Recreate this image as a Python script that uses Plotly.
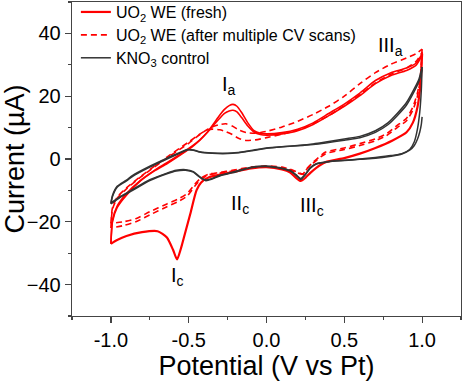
import plotly.graph_objects as go

# ---------------- data ----------------
# common potential grids (V vs Pt)
up_v = [-1.00, -0.99, -0.96, -0.90, -0.81, -0.72, -0.64, -0.54, -0.47, -0.43, -0.38, -0.34,
        -0.30, -0.27, -0.24, -0.215, -0.19, -0.16, -0.12, -0.08, -0.04, 0.00, 0.10, 0.20,
        0.30, 0.40, 0.50, 0.60, 0.70, 0.80, 0.90, 0.96, 1.00]

# UO2 WE (fresh) - solid red
fresh_up1_i = [-27, -20, -15.5, -11.5, -7.0, -3.8, -1.5, 1.7, 4.2, 5.9, 8.5, 11.2,
               14.0, 15.8, 17.0, 17.4, 16.8, 14.8, 11.5, 9.0, 8.2, 8.0, 8.4, 9.5,
               11.5, 14.5, 17.5, 21.0, 25.0, 27.5, 29.0, 30.5, 33.5]
fresh_up2_i = [-27, -19.5, -15, -11, -6.8, -3.6, -1.2, 2.0, 4.4, 6.0, 8.5, 10.8,
               13.0, 14.5, 15.3, 15.5, 15.0, 13.2, 10.5, 8.6, 7.8, 7.6, 8.0, 9.0,
               11.0, 13.8, 16.8, 20.2, 24.0, 26.6, 28.2, 29.8, 33.0]
fresh_dn_v = [1.00, 0.99, 0.97, 0.94, 0.90, 0.81, 0.70, 0.60, 0.50, 0.38, 0.32, 0.28, 0.25,
              0.22, 0.19, 0.15, 0.10, 0.00, -0.10, -0.22, -0.30, -0.37, -0.42, -0.45, -0.49,
              -0.52, -0.55, -0.575, -0.60, -0.64, -0.70, -0.80, -0.90, -0.96, -1.00]
fresh_dn_i = [33.5, 24, 16.5, 11.5, 8.5, 5.9, 3.5, 1.7, 0.3, -1.0, -2.8, -4.5, -6.0,
              -7.0, -6.0, -4.2, -3.3, -2.6, -3.0, -4.2, -5.0, -5.8, -7.5, -10, -17.5,
              -23, -28.5, -32, -29, -25, -23, -23.3, -24.5, -25.8, -27]

# UO2 WE (after multiple CV scans) - dashed red
aged_up_v = [-1.00, -0.99, -0.96, -0.90, -0.81, -0.72, -0.64, -0.56, -0.50, -0.45, -0.40,
             -0.35, -0.30, -0.26, -0.22, -0.18, -0.13, -0.07, 0.00, 0.10, 0.20, 0.30, 0.40,
             0.50, 0.60, 0.70, 0.80, 0.90, 0.96, 1.00]
aged_up1_i = [-22, -16, -12.5, -9.5, -5.8, -2.5, 0.3, 3.0, 5.0, 7.0, 8.8,
              10.2, 11.0, 11.2, 10.5, 9.3, 8.4, 8.2, 8.8, 10.2, 12.0, 14.2, 16.8,
              20.0, 24.0, 27.5, 30.2, 32.2, 33.5, 35.0]
aged_up2_i = [-20.5, -15.5, -12.2, -9.2, -5.6, -2.3, 0.6, 3.4, 5.4, 7.2, 8.8,
              9.5, 9.3, 8.7, 7.8, 6.6, 5.9, 6.1, 6.8, 7.9, 9.2, 11.2, 13.8,
              17.0, 20.5, 24.2, 27.0, 29.0, 31.0, 34.0]
aged_dn_v = [1.00, 0.99, 0.97, 0.94, 0.90, 0.84, 0.77, 0.70, 0.60, 0.50, 0.38, 0.30, 0.26,
             0.235, 0.20, 0.15, 0.10, 0.00, -0.10, -0.22, -0.30, -0.37, -0.42, -0.46, -0.51,
             -0.57, -0.64, -0.75, -0.84, -0.92, -1.00]
aged_dn1_i = [35.0, 27, 21, 16.5, 13.0, 10.7, 8.0, 6.4, 4.9, 3.5, 2.2, -1.0, -3.0,
              -4.7, -4.2, -3.2, -2.6, -2.2, -2.6, -3.6, -4.3, -4.8, -6.0, -8.0, -11.0,
              -12.8, -14.3, -16.8, -19.0, -20.0, -20.5]
aged_dn2_i = [34.0, 26, 20, 15.5, 12.2, 10.0, 7.4, 5.8, 4.3, 3.0, 1.7, -1.3, -3.2,
              -4.9, -4.4, -3.4, -2.8, -2.4, -2.8, -3.8, -4.5, -5.0, -6.4, -8.6, -11.8,
              -13.6, -15.2, -17.8, -20.0, -21.2, -22.0]

# KNO3 control - dark grey
ctrl_dn_v = [1.00, 0.995, 0.985, 0.97, 0.95, 0.92, 0.87, 0.80, 0.70, 0.60, 0.50, 0.40, 0.32,
             0.28, 0.25, 0.22, 0.19, 0.15, 0.10, 0.00, -0.10, -0.22, -0.30, -0.35, -0.39,
             -0.43, -0.47, -0.52, -0.58, -0.64, -0.75, -0.86, -0.94, -1.00]
ctrl_dn0_i = [13.4, 11.0, 8.6, 6.3, 4.3, 2.8, 1.6, 0.9, 0.2, -0.1, -0.5, -0.9, -1.6,
              -3.0, -5.0, -6.5, -5.2, -3.8, -3.1, -2.4, -2.8, -4.4, -5.4, -6.4, -6.9,
              -5.8, -4.2, -3.6, -3.8, -4.7, -6.9, -10.0, -12.2, -14.3]
ctrl_dn1_i = [29.3, 22.0, 15.0, 9.5, 5.5, 3.0, 1.7, 1.1, 0.5, 0.0, -0.4, -0.8, -1.5,
              -2.8, -4.8, -6.2, -5.0, -3.6, -2.9, -2.2, -2.6, -4.2, -5.2, -6.2, -6.7,
              -5.6, -4.0, -3.4, -3.6, -4.5, -6.6, -9.7, -12.0, -14.0]
ctrl_up_v = [-1.00, -0.99, -0.96, -0.90, -0.86, -0.75, -0.64, -0.56, -0.51, -0.47, -0.43,
             -0.35, -0.22, -0.10, 0.00, 0.10, 0.20, 0.30, 0.38, 0.50, 0.60, 0.70, 0.78,
             0.84, 0.90, 0.95, 0.98, 1.00]
ctrl_up1_i = [-14.3, -12.0, -9.0, -7.0, -5.5, -2.6, 0.0, 1.8, 2.9, 2.8, 2.2,
              1.8, 1.8, 2.6, 3.4, 3.9, 4.3, 4.8, 5.4, 6.4, 7.2, 9.0, 11.5,
              14.5, 18.0, 22.4, 25.5, 29.3]
ctrl_up2_i = [-14.0, -11.6, -8.7, -6.7, -5.2, -2.3, 0.3, 2.0, 3.0, 2.9, 2.3,
              1.9, 1.9, 2.7, 3.5, 3.9, 4.2, 4.6, 5.1, 6.0, 6.8, 8.5, 10.9,
              13.8, 17.2, 21.6, 24.8, 28.5]

x_ticks = [-1.0, -0.5, 0.0, 0.5, 1.0]
x_tick_text = ["-1.0", "-0.5", "0.0", "0.5", "1.0"]
y_ticks = [-40, -20, 0, 20, 40]

series_names = ["UO<sub>2</sub> WE (fresh)",
                "UO<sub>2</sub> WE (after multiple CV scans)",
                "KNO<sub>3</sub> control"]

labels = ["I<sub>a</sub>", "III<sub>a</sub>", "II<sub>c</sub>", "III<sub>c</sub>", "I<sub>c</sub>"]
label_v = [-0.24, 0.80, -0.17, 0.295, -0.57]
label_i = [23.5, 35.8, -14.5, -15.2, -37.5]

# ---------------- figure ----------------
RED = "#ff0000"
GREY = "#333333"
AXC = "#444444"
FONT = "Liberation Sans, Arial, sans-serif"

fig = go.Figure()

def add(v, i, name, legend, color, width, dash, show):
    fig.add_trace(go.Scatter(
        x=v, y=i, mode="lines", name=name, legend=legend, showlegend=show,
        line=dict(color=color, width=width, dash=dash, shape="spline", smoothing=0.6),
        hoverinfo="skip"))

n1, n2, n3 = series_names

add(fresh_dn_v, fresh_dn_i, n1, "legend", RED, 2.2, "solid", True)
add(up_v, fresh_up1_i, n1, "legend", RED, 1.6, "solid", False)
add(up_v, fresh_up2_i, n1, "legend", RED, 1.6, "solid", False)

add(aged_up_v, aged_up1_i, n2, "legend2", RED, 1.6, "6px,4px", True)
add(aged_dn_v, aged_dn1_i, n2, "legend2", RED, 1.6, "6px,4px", False)
add(aged_up_v, aged_up2_i, n2, "legend2", RED, 1.6, "6px,4px", False)
add(aged_dn_v, aged_dn2_i, n2, "legend2", RED, 1.6, "6px,4px", False)

add(ctrl_dn_v, ctrl_dn0_i, n3, "legend3", GREY, 1.5, "solid", True)
add(ctrl_up_v, ctrl_up1_i, n3, "legend3", GREY, 1.5, "solid", False)
add(ctrl_dn_v, ctrl_dn1_i, n3, "legend3", GREY, 1.5, "solid", False)
add(ctrl_up_v, ctrl_up2_i, n3, "legend3", GREY, 1.5, "solid", False)

for t, xv, yv in zip(labels, label_v, label_i):
    fig.add_annotation(x=xv, y=yv, text=t, showarrow=False,
                       font=dict(family=FONT, size=20, color="black"),
                       xanchor="center", yanchor="middle")

axis_common = dict(showline=True, mirror=True, linecolor=AXC, linewidth=1.3,
                   ticks="outside", ticklen=6, tickwidth=1.2, tickcolor=AXC,
                   showgrid=False, zeroline=False, automargin=False,
                   tickfont=dict(family=FONT, size=20, color="black"))

fig.update_xaxes(range=[-1.25, 1.25], tickvals=x_ticks, ticktext=x_tick_text,
                 minor=dict(ticks="outside", ticklen=3, dtick=0.25, tick0=-1.25,
                            tickcolor=AXC, tickwidth=1.2),
                 title=dict(text="Potential (V vs Pt)", standoff=2,
                            font=dict(family=FONT, size=27, color="black")),
                 **axis_common)
fig.update_yaxes(range=[-50, 50], tickvals=y_ticks,
                 minor=dict(ticks="outside", ticklen=3, dtick=10, tick0=-50,
                            tickcolor=AXC, tickwidth=1.2),
                 title=dict(text="Current (µA)", standoff=2,
                            font=dict(family=FONT, size=27, color="black")),
                 **axis_common)

leg_common = dict(x=0.01, xanchor="left", yanchor="middle",
                  bgcolor="rgba(0,0,0,0)", borderwidth=0,
                  font=dict(family=FONT, size=16, color="black"), itemwidth=30)

fig.update_layout(
    width=464, height=383,
    margin=dict(l=72, r=3, t=2, b=67, autoexpand=False),
    paper_bgcolor="white", plot_bgcolor="white",
    font=dict(family=FONT, color="black"),
    legend=dict(y=0.968, **leg_common),
    legend2=dict(y=0.895, **leg_common),
    legend3=dict(y=0.822, **leg_common),
)

fig.write_html("out.html",
               config={"displayModeBar": False, "staticPlot": True},
               post_script="document.body.style.margin='0px';document.body.style.overflow='hidden';")
